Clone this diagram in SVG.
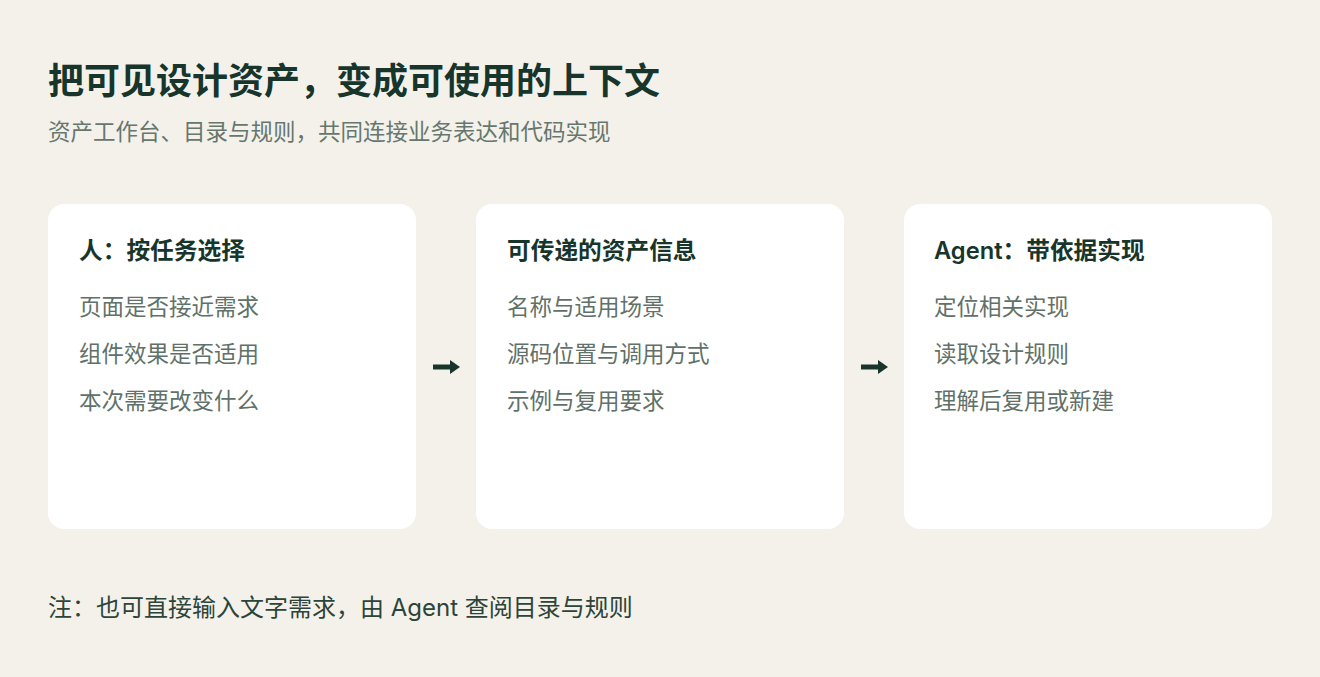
<svg xmlns="http://www.w3.org/2000/svg" width="1320" height="677" viewBox="0 0 1320 677">
<style>
.t{font-family:"Inter","Noto Sans CJK SC",sans-serif;}
.title{font-size:36px;font-weight:700;fill:#17352b;}
.sub{font-size:22.5px;fill:#66776e;}
.card{fill:#ffffff;}
.h{font-size:23.7px;font-weight:600;fill:#17352b;}
.i{font-size:22.5px;fill:#5f7168;}
.note{font-size:24px;fill:#2c4439;}
.arr{stroke:#17352b;stroke-width:5;fill:none;}
.head{fill:#17352b;}
</style>
<rect width="1320" height="677" fill="#f4f1eb"/>
<text class="t title" x="48" y="94">把可见设计资产，变成可使用的上下文</text>
<text class="t sub" x="48" y="140">资产工作台、目录与规则，共同连接业务表达和代码实现</text>
<g id="node-human">
<rect class="card" x="48" y="204" width="368" height="325" rx="16"/>
<text class="t h" x="79" y="259">人：按任务选择</text>
<text class="t i" x="79" y="315">页面是否接近需求</text>
<text class="t i" x="79" y="362">组件效果是否适用</text>
<text class="t i" x="79" y="409">本次需要改变什么</text>
</g>
<g id="node-info">
<rect class="card" x="476" y="204" width="368" height="325" rx="16"/>
<text class="t h" x="507" y="259">可传递的资产信息</text>
<text class="t i" x="507" y="315">名称与适用场景</text>
<text class="t i" x="507" y="362">源码位置与调用方式</text>
<text class="t i" x="507" y="409">示例与复用要求</text>
</g>
<g id="node-agent">
<rect class="card" x="904" y="204" width="368" height="325" rx="16"/>
<text class="t h" x="934" y="259">Agent：带依据实现</text>
<text class="t i" x="934" y="315">定位相关实现</text>
<text class="t i" x="934" y="362">读取设计规则</text>
<text class="t i" x="934" y="409">理解后复用或新建</text>
</g>
<g id="connectors">
<line class="arr" x1="433" y1="367" x2="451" y2="367"/>
<polygon class="head" points="450,360 460,367 450,374"/>
<line class="arr" x1="861" y1="367" x2="879" y2="367"/>
<polygon class="head" points="878,360 888,367 878,374"/>
</g>
<text class="t note" x="48" y="616">注：也可直接输入文字需求，由 Agent 查阅目录与规则</text>
</svg>
